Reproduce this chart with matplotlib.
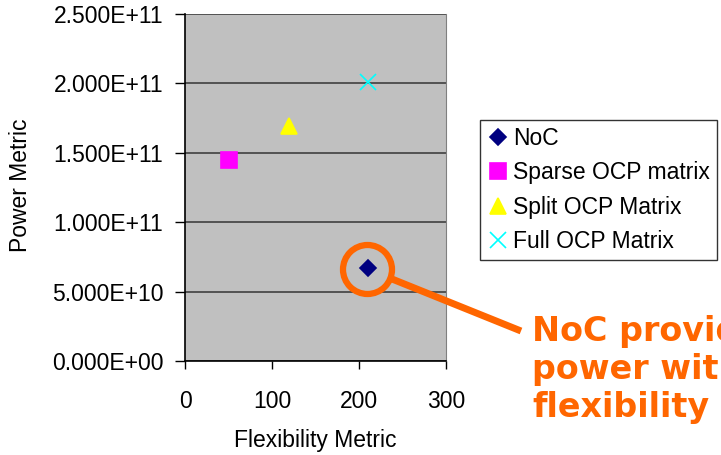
import matplotlib.pyplot as plt
from matplotlib.patches import Ellipse
from matplotlib.lines import Line2D

plt.rcParams['font.family'] = ['Liberation Sans', 'DejaVu Sans']

seriesNames = ["NoC", "Sparse OCP matrix", "Split OCP Matrix", "Full OCP Matrix"]
flexibility = [210, 50, 120, 210]
power = [6.7e10, 1.45e11, 1.69e11, 2.01e11]
yTicks = [0, 5e10, 1e11, 1.5e11, 2e11, 2.5e11]
yTickLabels = ["0.000E+00", "5.000E+10", "1.000E+11", "1.500E+11", "2.000E+11", "2.500E+11"]
xTicks = [0, 100, 200, 300]

markers = ["D", "s", "^", "x"]
colors = ["#000080", "#FF00FF", "#FFFF00", "#00FFFF"]
sizes = [8, 11, 12, 11]

orange = "#FF6600"
W, H = 721, 455


def main():
    fig = plt.figure(figsize=(W / 100, H / 100), dpi=100)
    ax = fig.add_axes([185 / W, 1 - 361 / H, 261 / W, 347 / H])
    ax.set_facecolor("#C0C0C0")

    for i in range(len(seriesNames)):
        ax.plot(flexibility[i], power[i], linestyle="none", marker=markers[i],
                color=colors[i], markersize=sizes[i], markeredgewidth=1.2,
                label=seriesNames[i], zorder=3)

    ax.set_xlim(0, 300)
    ax.set_ylim(0, 2.5e11)
    ax.set_xticks(xTicks)
    ax.set_yticks(yTicks)
    ax.set_yticklabels(yTickLabels)
    ax.grid(axis="y", color="#404040", linewidth=1.2)
    ax.set_axisbelow(True)
    ax.tick_params(axis="x", direction="out", length=6, width=1, labelsize=16.5, pad=15)
    ax.tick_params(axis="y", direction="out", length=7.5, width=1, labelsize=16.5, pad=8)
    ax.spines["top"].set_visible(False)
    ax.spines["right"].set_color("#808080")
    ax.spines["left"].set_linewidth(1.2)
    ax.spines["bottom"].set_linewidth(1.2)
    ax.set_xlabel("Flexibility Metric", fontsize=16.5)
    ax.set_ylabel("Power Metric", fontsize=16.5)
    ax.xaxis.set_label_coords((315 - 185) / 261, (361 - 429) / 347)
    ax.yaxis.set_label_coords((32 - 185) / 261, (361 - 185) / 347)

    leg = fig.legend(loc="upper left", bbox_to_anchor=(480 / W, 1 - 120 / H),
                     fontsize=16.5, frameon=True, fancybox=False, edgecolor="black",
                     handletextpad=0.15, handlelength=1.0, borderpad=0.3,
                     labelspacing=0.5, borderaxespad=0)
    leg.get_frame().set_linewidth(1.0)

    # callout circle and pointer line
    circle = Ellipse((367.5 / W, 1 - 269.5 / H), 49 / W, 49 / H,
                     transform=fig.transFigure, fill=False, edgecolor=orange,
                     linewidth=4.5, zorder=5)
    fig.patches.append(circle)
    fig.add_artist(Line2D([392 / W, 521 / W], [1 - 279 / H, 1 - 331 / H],
                          transform=fig.transFigure, color=orange, linewidth=5,
                          solid_capstyle="butt"))

    fig.text(532 / W, 1 - 315 / H, "NoC provides less\npower with more\nflexibility",
             color=orange, fontsize=24, fontweight="bold", family="DejaVu Sans",
             va="top", ha="left", linespacing=1.2)

    fig.savefig("out.png", dpi=100)


main()
